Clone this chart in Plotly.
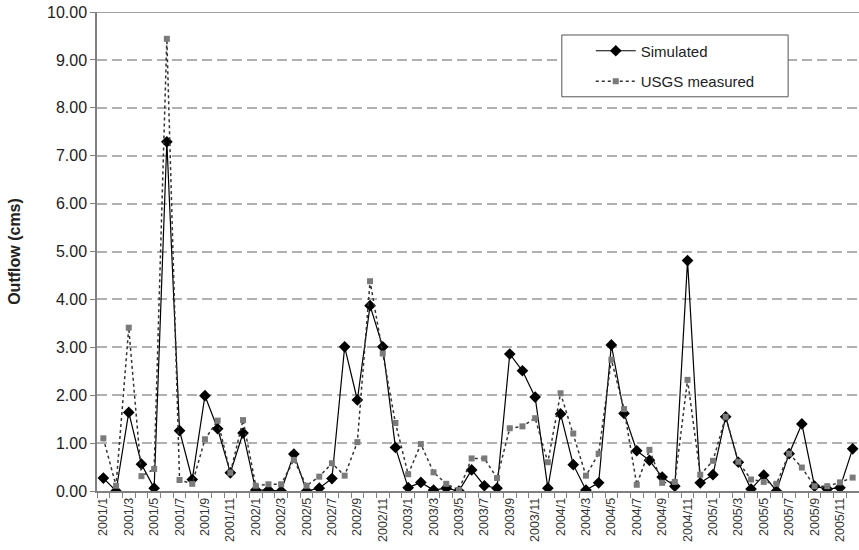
import plotly.graph_objects as go

months = [f"{y}/{m}" for y in range(2001, 2006) for m in range(1, 13)]

simulated = [0.27, 0.00, 1.64, 0.56, 0.06, 7.29, 1.26, 0.24, 1.99, 1.30, 0.38, 1.21,
             0.02, 0.02, 0.00, 0.77, 0.00, 0.06, 0.26, 3.01, 1.90, 3.87, 3.01, 0.91,
             0.07, 0.18, 0.02, 0.06, 0.00, 0.44, 0.11, 0.06, 2.86, 2.51, 1.96, 0.06,
             1.61, 0.55, 0.02, 0.17, 3.05, 1.62, 0.84, 0.64, 0.29, 0.10, 4.81, 0.17,
             0.34, 1.55, 0.60, 0.04, 0.33, 0.00, 0.78, 1.40, 0.10, 0.04, 0.07, 0.88]

measured = [1.10, 0.11, 3.41, 0.31, 0.46, 9.44, 0.23, 0.15, 1.08, 1.47, 0.38, 1.48,
            0.11, 0.14, 0.14, 0.65, 0.11, 0.30, 0.58, 0.32, 1.02, 4.38, 2.87, 1.42,
            0.35, 0.98, 0.39, 0.15, 0.02, 0.68, 0.68, 0.27, 1.31, 1.35, 1.52, 0.60,
            2.04, 1.20, 0.32, 0.78, 2.74, 1.71, 0.13, 0.86, 0.17, 0.19, 2.32, 0.34,
            0.63, 1.55, 0.61, 0.24, 0.19, 0.15, 0.78, 0.49, 0.10, 0.10, 0.18, 0.28]

y_ticks = [0, 1, 2, 3, 4, 5, 6, 7, 8, 9, 10]

idx = list(range(len(months)))
label_idx = idx[::2]
label_txt = months[::2]

fig = go.Figure()
fig.add_trace(go.Scatter(
    x=idx, y=simulated, name="Simulated", mode="lines+markers",
    line=dict(color="black", width=1.2),
    marker=dict(symbol="diamond", size=9, color="black"),
    legendgroup="a"))
fig.add_trace(go.Scatter(
    x=idx, y=measured, name="USGS measured", mode="lines+markers",
    line=dict(color="#333333", width=1.5, dash="dot"),
    marker=dict(symbol="square", size=6, color="#7a7a7a"),
    legendgroup="b"))

# top frame line at 10.00
fig.add_shape(type="line", xref="paper", yref="y", x0=0, x1=1, y0=10, y1=10,
              line=dict(color="#808080", width=1.5))
# legend frame
fig.add_shape(type="rect", xref="paper", yref="paper", x0=0.610, x1=0.907,
              y0=0.823, y1=0.952, line=dict(color="#555555", width=1),
              fillcolor="white", layer="above")

fig.update_layout(
    width=859, height=550,
    margin=dict(l=97, r=0, t=12, b=59),
    paper_bgcolor="white", plot_bgcolor="white",
    font=dict(family="Liberation Sans, Arial", color="#222222"),
    showlegend=True,
    legend=dict(x=0.648, y=0.953, xanchor="left", yanchor="top",
                borderwidth=0, bgcolor="rgba(0,0,0,0)",
                font=dict(size=15, color="#222222"),
                tracegroupgap=8, itemwidth=40),
    xaxis=dict(range=[-0.5, 59.5], tickmode="array", tickvals=label_idx,
               ticktext=label_txt, tickangle=-90, ticks="",
               tickfont=dict(size=12.5, color="#333333"), showgrid=False,
               zeroline=False, showline=True, linecolor="#808080", linewidth=1.5,
               minor=dict(tick0=-0.5, dtick=1, ticks="outside", ticklen=5,
                          tickcolor="#808080", tickwidth=1, showgrid=False)),
    yaxis=dict(range=[0, 10], tickmode="array", tickvals=y_ticks,
               tickformat=".2f", ticks="outside", ticklen=5,
               tickcolor="#808080", tickfont=dict(size=16),
               showgrid=True, gridcolor="#b0b0b0", gridwidth=1.5,
               griddash="10px,5px", zeroline=False,
               showline=True, linecolor="#808080", linewidth=1.5,
               title=dict(text="<b>Outflow (cms)</b>", font=dict(size=16),
                          standoff=22)),
)

fig.write_html("out.html")
